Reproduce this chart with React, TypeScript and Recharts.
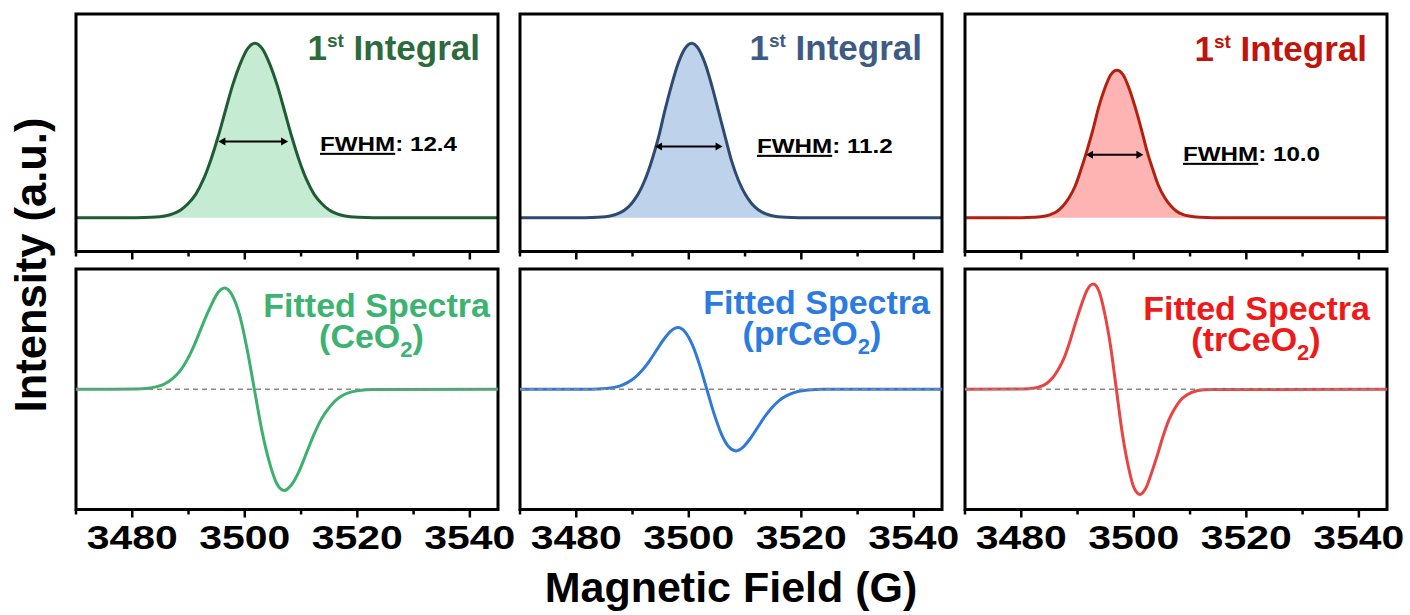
import { ComposedChart, Area, Line, XAxis, YAxis, ReferenceLine, ReferenceArea } from 'recharts';

// Magnetic field grid (G) and intensities, one set per sample
const ceo2IntField = [3470, 3480.7, 3483.4, 3486.0, 3487.3, 3488.6, 3489.9, 3491.3, 3492.6, 3493.9, 3495.2, 3496.5, 3497.8, 3499.2, 3500.5, 3501.8, 3503.1, 3504.4, 3505.8, 3507.1, 3508.4, 3509.7, 3511.0, 3512.3, 3513.7, 3515.0, 3516.3, 3517.6, 3520.2, 3522.9, 3545];
const ceo2IntValue = [0, 0.000, 0.002, 0.011, 0.023, 0.044, 0.080, 0.135, 0.216, 0.325, 0.458, 0.607, 0.755, 0.883, 0.969, 1.000, 0.969, 0.883, 0.755, 0.607, 0.458, 0.325, 0.216, 0.135, 0.080, 0.044, 0.023, 0.011, 0.002, 0.000, 0];

const prIntField = [3470, 3481.5, 3483.8, 3486.2, 3487.4, 3488.6, 3489.8, 3491.0, 3492.2, 3493.4, 3494.6, 3495.7, 3496.9, 3498.1, 3499.3, 3500.5, 3501.7, 3502.9, 3504.1, 3505.3, 3506.5, 3507.6, 3508.8, 3510.0, 3511.2, 3512.4, 3513.6, 3514.8, 3517.2, 3519.5, 3545];
const prIntValue = [0, 0.000, 0.002, 0.011, 0.023, 0.044, 0.080, 0.135, 0.216, 0.325, 0.458, 0.607, 0.755, 0.883, 0.969, 1.000, 0.969, 0.883, 0.755, 0.607, 0.458, 0.325, 0.216, 0.135, 0.080, 0.044, 0.023, 0.011, 0.002, 0.000, 0];

const trIntField = [3470, 3480.0, 3482.1, 3484.3, 3485.3, 3486.4, 3487.4, 3488.5, 3489.6, 3490.6, 3491.7, 3492.8, 3493.8, 3494.9, 3495.9, 3497.0, 3498.1, 3499.1, 3500.2, 3501.3, 3502.3, 3503.4, 3504.4, 3505.5, 3506.6, 3507.6, 3508.7, 3509.8, 3511.9, 3514.0, 3545];
const trIntValue = [0, 0.000, 0.002, 0.009, 0.019, 0.037, 0.067, 0.114, 0.183, 0.274, 0.387, 0.512, 0.638, 0.746, 0.819, 0.845, 0.819, 0.746, 0.638, 0.512, 0.387, 0.274, 0.183, 0.114, 0.067, 0.037, 0.019, 0.009, 0.002, 0.000, 0];

const ceo2FitField = [3470, 3480.5, 3483.2, 3485.8, 3487.1, 3488.5, 3489.8, 3491.1, 3492.4, 3493.8, 3495.1, 3496.4, 3497.7, 3499.1, 3500.4, 3501.7, 3503.0, 3504.4, 3505.7, 3507.0, 3508.3, 3509.7, 3511.0, 3512.3, 3513.6, 3515.0, 3516.3, 3517.6, 3520.3, 3522.9, 3545];
const ceo2FitValue = [0, 0.002, 0.013, 0.055, 0.104, 0.183, 0.298, 0.451, 0.630, 0.811, 0.953, 1.010, 0.943, 0.735, 0.403, 0, -0.403, -0.735, -0.943, -1.010, -0.953, -0.811, -0.630, -0.451, -0.298, -0.183, -0.104, -0.055, -0.013, -0.002, 0];

const prFitField = [3470, 3482.6, 3485.2, 3487.8, 3489.0, 3490.3, 3491.6, 3492.9, 3494.2, 3495.5, 3496.8, 3498.1, 3499.3, 3500.6, 3501.9, 3503.2, 3504.5, 3505.8, 3507.1, 3508.4, 3509.6, 3510.9, 3512.2, 3513.5, 3514.8, 3516.1, 3517.4, 3518.7, 3521.2, 3523.8, 3545];
const prFitValue = [0, 0.001, 0.008, 0.034, 0.064, 0.111, 0.182, 0.274, 0.384, 0.494, 0.580, 0.615, 0.574, 0.447, 0.246, 0, -0.246, -0.447, -0.574, -0.615, -0.580, -0.494, -0.384, -0.274, -0.182, -0.111, -0.064, -0.034, -0.008, -0.001, 0];

const trFitField = [3470, 3480.3, 3482.4, 3484.5, 3485.5, 3486.5, 3487.6, 3488.6, 3489.6, 3490.7, 3491.7, 3492.8, 3493.8, 3494.8, 3495.9, 3496.9, 3497.9, 3499.0, 3500.0, 3501.1, 3502.1, 3503.1, 3504.2, 3505.2, 3506.2, 3507.3, 3508.3, 3509.4, 3511.4, 3513.5, 3545];
const trFitValue = [0, 0.002, 0.013, 0.058, 0.109, 0.190, 0.310, 0.469, 0.655, 0.843, 0.991, 1.050, 0.980, 0.764, 0.419, 0, -0.419, -0.764, -0.980, -1.050, -0.991, -0.843, -0.655, -0.469, -0.310, -0.190, -0.109, -0.058, -0.013, -0.002, 0];

// FWHM arrows (start field, end field, height) and labels
const fwhmStart = [3495.3, 3494.0, 3491.5];
const fwhmEnd = [3507.7, 3506.0, 3501.7];
const fwhmLevel = [0.436, 0.408, 0.36];
const fwhmLabels = ['12.4', '11.2', '10.0'];
const sampleNames = ['CeO', 'prCeO', 'trCeO'];

const fieldTicks = [3470, 3480, 3490, 3500, 3510, 3520, 3530, 3540];
const labelTicks = [3480, 3500, 3520, 3540];
const fieldDomain = [3470, 3545];
const intDomain = [-0.194, 1.167];
const fitDomain = [-1.2, 1.2];

const SANS = '"Liberation Sans", Arial, sans-serif';

const PLOT_X = [76, 520, 965];
const PLOT_W = 422;
const ROWS = {
  top: { plotTop: 13.5, plotH: 237.5, axisH: 12 },
  bottom: { plotTop: 268.5, plotH: 240.5, axisH: 50 },
};

const COLS = [
  { intStroke: '#1f5c34', intFill: '#c6ebd3', title: '#2d6b3e', fit: '#3cb06c', fitText: '#3cb371' },
  { intStroke: '#2e4a72', intFill: '#bed3eb', title: '#3e5b84', fit: '#2f7ad8', fitText: '#2c7be0' },
  { intStroke: '#b3200f', intFill: '#ffb4b4', title: '#c0150c', fit: '#e84444', fitText: '#ee1a1a' },
];

const toRows = (xs: number[], ys: number[]) => xs.map((x, i) => ({ field: x, v: ys[i] }));

const intRows = [toRows(ceo2IntField, ceo2IntValue), toRows(prIntField, prIntValue), toRows(trIntField, trIntValue)];
const fitRows = [toRows(ceo2FitField, ceo2FitValue), toRows(prFitField, prFitValue), toRows(trFitField, trFitValue)];

function FieldTick(props: any) {
  const { x, y, payload, showLabel } = props;
  const major = labelTicks.includes(payload.value);
  return (
    <g>
      <line x1={x} y1={y} x2={x} y2={y + (major ? 8 : 5)} stroke="#000" strokeWidth={2.5} />
      {showLabel && major && (
        <text transform={`translate(${x},${y + 39}) scale(1.24,1)`} textAnchor="middle" fontFamily={SANS}
          fontWeight="bold" fontSize={33} fill="#000">
          {payload.value}
        </text>
      )}
    </g>
  );
}

function FwhmArrow(props: any) {
  const { x1, y1, x2, y2 } = props;
  const h = 7;
  const w = 4;
  return (
    <g>
      <line x1={x1 + h - 1} y1={y1} x2={x2 - h + 1} y2={y2} stroke="#000" strokeWidth={2} />
      <polygon points={`${x1},${y1} ${x1 + h},${y1 - w} ${x1 + h},${y1 + w}`} fill="#000" />
      <polygon points={`${x2},${y2} ${x2 - h},${y2 - w} ${x2 - h},${y2 + w}`} fill="#000" />
    </g>
  );
}

function Panel({ col, row }: { col: number; row: 'top' | 'bottom' }) {
  const r = ROWS[row];
  const c = COLS[col];
  const isTop = row === 'top';
  const domain = isTop ? intDomain : fitDomain;
  return (
    <div style={{ position: 'absolute', left: PLOT_X[col] - 20, top: r.plotTop - 10 }}>
      <ComposedChart
        width={PLOT_W + 40}
        height={10 + r.plotH + r.axisH}
        data={isTop ? intRows[col] : fitRows[col]}
        margin={{ top: 10, right: 20, bottom: 0, left: 20 }}
      >
        <XAxis
          dataKey="field"
          type="number"
          domain={fieldDomain}
          allowDataOverflow
          ticks={fieldTicks}
          interval={0}
          height={r.axisH}
          tickSize={0}
          tickMargin={0}
          axisLine={false}
          tickLine={false}
          tick={(p: any) => <FieldTick {...p} showLabel={!isTop} />}
        />
        <YAxis hide type="number" domain={domain} allowDataOverflow />
        {isTop ? (
          <Area
            type="monotone"
            dataKey="v"
            stroke={c.intStroke}
            strokeWidth={3}
            fill={c.intFill}
            fillOpacity={1}
            baseValue={0}
            dot={false}
            activeDot={false}
            isAnimationActive={false}
          />
        ) : (
          <Line
            type="monotone"
            dataKey="v"
            stroke={c.fit}
            strokeWidth={3}
            dot={false}
            activeDot={false}
            isAnimationActive={false}
          />
        )}
        {!isTop && <ReferenceLine y={0} stroke="#8a8a8a" strokeWidth={1.5} strokeDasharray="5 4" />}
        {isTop && (
          <ReferenceLine
            segment={[{ x: fwhmStart[col], y: fwhmLevel[col] }, { x: fwhmEnd[col], y: fwhmLevel[col] }]}
            shape={(p: any) => <FwhmArrow {...p} />}
          />
        )}
        <ReferenceArea
          x1={fieldDomain[0]}
          x2={fieldDomain[1]}
          y1={domain[0]}
          y2={domain[1]}
          fill="none"
          fillOpacity={0}
          stroke="#000"
          strokeWidth={3}
        />
      </ComposedChart>
    </div>
  );
}

// text placement for the annotations
const titleRight = [480, 922, 1367];
const titleBase = [60, 60, 61];
const fwhmX = [320, 757, 1183];
const fwhmBase = [151, 153, 161];
const fitRight = [490, 930, 1370];
const fitBase = [317, 314, 320];
const fitCenter = [371.5, 812, 1256];
const fitBase2 = [348, 345, 351];

export default function App() {
  return (
    <div style={{ position: 'absolute', left: 0, top: 0, width: 1410, height: 615, background: '#fff', overflow: 'hidden' }}>
      {[0, 1, 2].map(col => (
        <div key={col}>
          <Panel col={col} row="top" />
          <Panel col={col} row="bottom" />
        </div>
      ))}
      <svg width={1410} height={615} style={{ position: 'absolute', left: 0, top: 0, pointerEvents: 'none' }}>
        <g fontFamily={SANS} fontWeight="bold">
          {[0, 1, 2].map(col => (
            <g key={col}>
              <text x={titleRight[col]} y={titleBase[col]} textAnchor="end" fontSize={35} fill={COLS[col].title}>
                1<tspan fontSize={19} dy={-13}>st</tspan>
                <tspan dy={13}> Integral</tspan>
              </text>
              <text transform={`translate(${fwhmX[col]},${fwhmBase[col]}) scale(1.18,1)`} fontSize={20.5} fill="#000">
                <tspan style={{ textDecoration: 'underline' }}>FWHM</tspan>: {fwhmLabels[col]}
              </text>
              {/* two-line sample label kept in one text element */}
              <text fontSize={34} fill={COLS[col].fitText}>
                <tspan x={fitRight[col]} y={fitBase[col]} textAnchor="end">Fitted Spectra</tspan>
                <tspan x={fitCenter[col]} y={fitBase2[col]} textAnchor="middle">
                  ({sampleNames[col]}<tspan fontSize={22} dy={9}>2</tspan><tspan dy={-9}>)</tspan>
                </tspan>
              </text>
            </g>
          ))}
          <text transform="translate(46,265) rotate(-90)" textAnchor="middle" fontSize={43.5} fill="#000">
            Intensity (a.u.)
          </text>
          <text x={731} y={602} textAnchor="middle" fontSize={43} fill="#000">
            Magnetic Field (G)
          </text>
        </g>
      </svg>
    </div>
  );
}
